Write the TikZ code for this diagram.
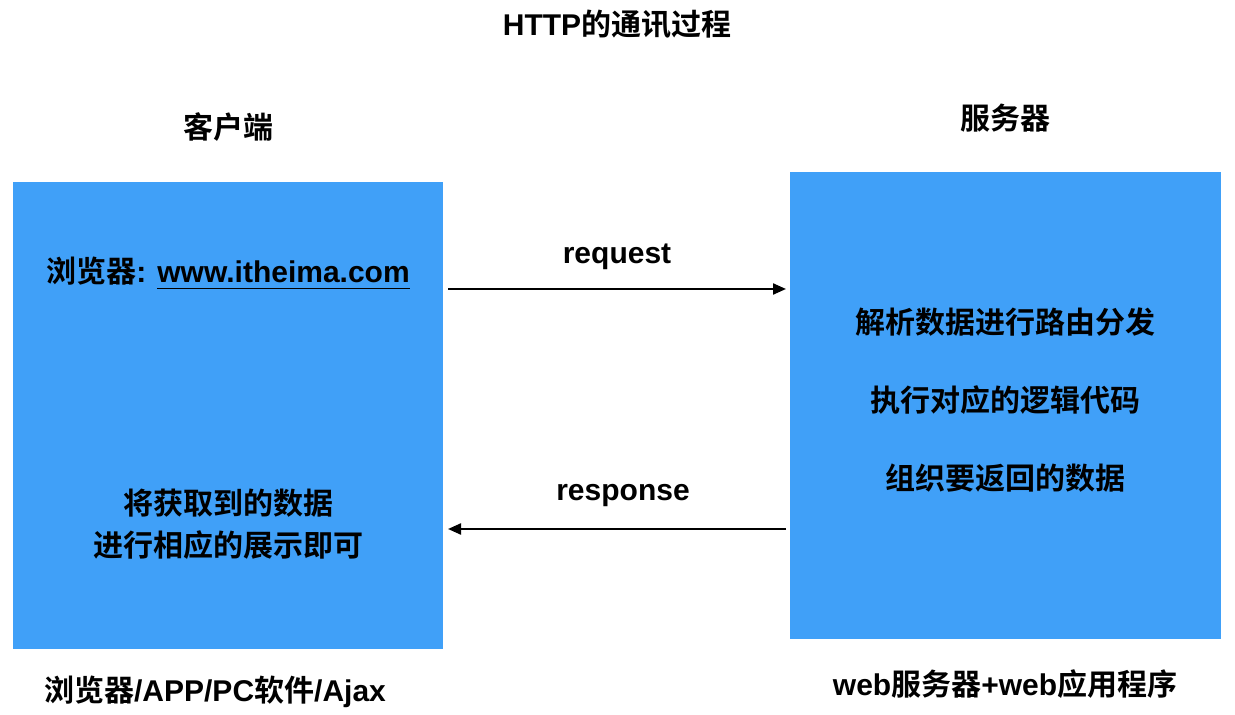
\documentclass[tikz,border=0pt]{standalone}
\usepackage{fontspec}
\setmainfont{Liberation Sans}
\newfontfamily\cjk{Noto Sans CJK SC}[BoldFont={Noto Sans CJK SC Bold}]
\usetikzlibrary{arrows.meta}
\newcommand{\zh}[1]{{\cjk #1}}
\definecolor{boxblue}{HTML}{40A0F8}

\begin{document}
\begin{tikzpicture}[x=0.5pt,y=-0.5pt,
  lbl/.style={font=\fontsize{15}{18}\selectfont\bfseries, inner sep=0pt, anchor=center},
  msg/.style={line width=1.1pt, -{Triangle[length=6.5pt,width=5.5pt]}}]
  \useasboundingbox[fill=white] (0,0) rectangle (1235,715);
  \fill[boxblue] (13,182) rectangle (443,649);
  \fill[boxblue] (790,172) rectangle (1221,639);
  % titles
  \node[lbl] (title) at (617,24) {HTTP\zh{的通讯过程}};
  \node[lbl] (client) at (228,127) {\zh{客户端}};
  \node[lbl] (server) at (1005,118) {\zh{服务器}};
  % client side
  \node[lbl] (url) at (228,273) {\zh{浏览器}: \underline{www.itheima.com\rule[-1.5pt]{0pt}{1pt}}};
  \node[lbl] (show1) at (228,503) {\zh{将获取到的数据}};
  \node[lbl] (show2) at (228,545) {\zh{进行相应的展示即可}};
  \node[lbl] (clients) at (215,692) {\zh{浏览器}/APP/PC\zh{软件}/Ajax};
  % server side
  \node[lbl] (route) at (1005,322) {\zh{解析数据进行路由分发}};
  \node[lbl] (logic) at (1005,400) {\zh{执行对应的逻辑代码}};
  \node[lbl] (data) at (1005,478) {\zh{组织要返回的数据}};
  \node[lbl] (servers) at (1005,684) {web\zh{服务器}+web\zh{应用程序}};
  % messages
  \coordinate (reqL) at (448,289);
  \coordinate (reqR) at (786,289);
  \coordinate (resL) at (448,529);
  \coordinate (resR) at (786,529);
  \draw[msg] (reqL) -- (reqR);
  \draw[msg] (resR) -- (resL);
  \node[lbl] (req) at (617,257) {request};
  \node[lbl] (res) at (623,496) {response};
\end{tikzpicture}
\end{document}
